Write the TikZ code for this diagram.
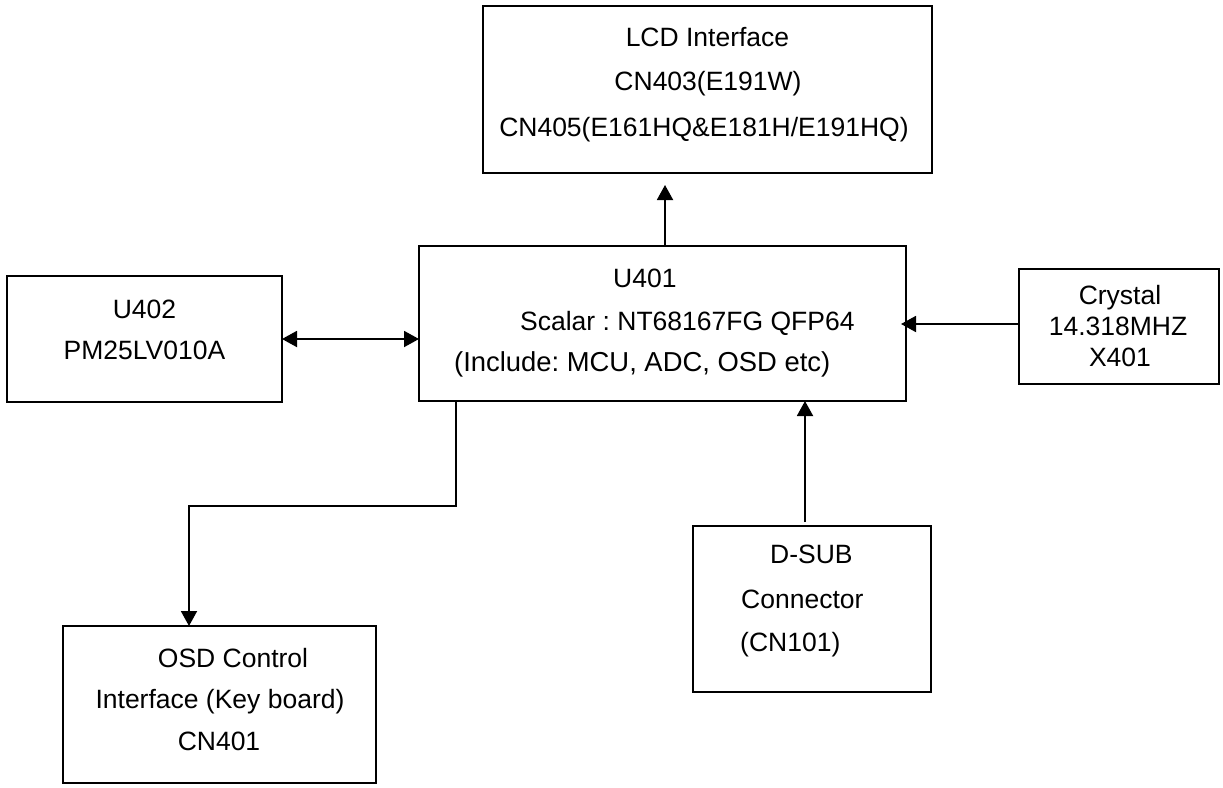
\documentclass[tikz,border=0pt]{standalone}
\usepackage{fontspec}
\setmainfont{Liberation Sans}
\usetikzlibrary{arrows.meta}
\frenchspacing
\begin{document}
\begin{tikzpicture}[x=1pt,y=-1pt,
  box/.style={draw, line width=1.9pt, inner sep=0pt, outer sep=0pt},
  lbl/.style={inner sep=0pt, anchor=base, font=\fontsize{26.5}{30}\selectfont},
  lblw/.style={lbl, anchor=base west},
  conn/.style={line width=1.9pt},
  arr/.style={conn, -{Triangle[length=15pt,width=16pt]}},
  darr/.style={conn, {Triangle[length=15pt,width=16pt]}-{Triangle[length=15pt,width=16pt]}}]
\useasboundingbox (0,0) rectangle (1223,787);
% boxes
\node[box, minimum width=449pt, minimum height=167pt] (lcd) at (707.5,89.5) {};
\node[box, minimum width=487pt, minimum height=155pt] (u401) at (662.5,323.5) {};
\node[box, minimum width=275pt, minimum height=126pt] (u402) at (144.5,339) {};
\node[box, minimum width=200pt, minimum height=115pt] (crystal) at (1119,326.5) {};
\node[box, minimum width=238pt, minimum height=166pt] (dsub) at (812,609) {};
\node[box, minimum width=313pt, minimum height=157pt] (osd) at (219.5,704.5) {};
% texts
\node[lbl] (t1) at (707.5,46.7) {LCD Interface};
\node[lbl] (t2) at (708,90) {CN403(E191W)};
\node[lbl] (t3) at (704,136.7) {CN405(E161HQ\&E181H/E191HQ)};
\node[lblw] (t4) at (613,287) {U401};
\node[lblw] (t5) at (520,330) {Scalar : NT68167FG QFP64};
\node[lblw, font=\fontsize{27.4}{30}\selectfont] (t6) at (454,371) {(Include: MCU, ADC, OSD etc)};
\node[lbl] (t7) at (144.5,318) {U402};
\node[lbl] (t8) at (144.5,359) {PM25LV010A};
\node[lbl] (t9) at (1120,304) {Crystal};
\node[lbl] (t10) at (1118,335) {14.318MHZ};
\node[lbl] (t11) at (1120,366) {X401};
\node[lbl] (t12) at (233,667) {OSD Control};
\node[lbl] (t13) at (220,708) {Interface (Key board)};
\node[lbl] (t14) at (219,750) {CN401};
\node[lblw] (t15) at (770,563) {D-SUB};
\node[lblw] (t16) at (741,608) {Connector};
\node[lblw] (t17) at (740,651) {(CN101)};
% connector helpers
\coordinate (cx1) at (665,0);
\coordinate (cy1) at (0,324);
\coordinate (cx2) at (805,0);
\coordinate (k1) at (456,506);
\coordinate (k2) at (189,506);
% connectors
\draw[arr, shorten >=12pt] (u401.north -| cx1) -- (lcd.south -| cx1);
\draw[darr] (u402.east) -- (u401.west |- u402.east);
\draw[arr, shorten >=-5pt] (crystal.west |- cy1) -- (u401.east |- cy1);
\draw[arr, shorten <=4pt] (dsub.north -| cx2) -- (u401.south -| cx2);
\draw[arr] (u401.south -| k1) -- (k1) -- (k2) -- (osd.north -| k2);
\end{tikzpicture}
\end{document}
